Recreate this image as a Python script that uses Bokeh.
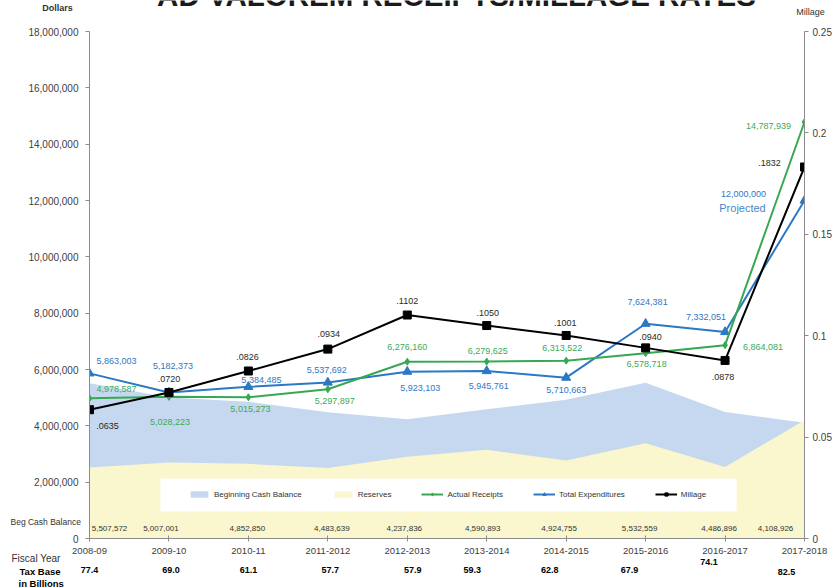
from bokeh.plotting import figure
from bokeh.models import (Range1d, LinearAxis, FixedTicker, NumeralTickFormatter,
                          CustomJSTickFormatter, ColumnDataSource, Legend, LegendItem,
                          Label, GridBox)
from bokeh.core.properties import value
from bokeh.embed import file_html
from bokeh.resources import INLINE

# ---------------- data ----------------
years = ["2008-09", "2009-10", "2010-11", "2011-2012", "2012-2013", "2013-2014",
         "2014-2015", "2015-2016", "2016-2017", "2017-2018"]
beg_cash = [5507572, 5007001, 4852850, 4483639, 4237836, 4590893, 4924755,
            5532559, 4486896, 4108926]
reserves = [2520000, 2700000, 2650000, 2500000, 2900000, 3150000, 2770000,
            3380000, 2540000, 4200000]
receipts = [4978587, 5028223, 5015273, 5297897, 6276160, 6279625, 6313522,
            6578718, 6864081, 14787939]
expenditures = [5863003, 5182373, 5384485, 5537692, 5923103, 5945761, 5710663,
                7624381, 7332051, 12000000]
millage = [0.0635, 0.0720, 0.0826, 0.0934, 0.1102, 0.1050, 0.1001, 0.0940,
           0.0878, 0.1832]
millage_text = [".0635", ".0720", ".0826", ".0934", ".1102", ".1050", ".1001",
                ".0940", ".0878", ".1832"]
tax_base = ["77.4", "69.0", "61.1", "57.7", "57.9", "59.3", "62.8", "67.9",
            "74.1", "82.5"]
dollar_ticks = [0, 2000000, 4000000, 6000000, 8000000, 10000000, 12000000,
                14000000, 16000000, 18000000]
millage_ticks = [0, 0.05, 0.1, 0.15, 0.2, 0.25]
Y_MAX = 18000000
M_MAX = 0.25

# label offsets (screen px, style only)
te_dx = [27, 4, 13, -1, 13, 2, 0, 2, -19, -61]
te_dy = [-12, -27, -7, -13, 16, 15, 12, -22, -15, -7]
ar_dx = [27, 1, 2, 7, 0, 1, -4, 1, 38, -36]
ar_dy = [-9, 25, 12, 12, -15, -11, -13, 11, 2, 4]
mi_dx = [18, 0, -1, 1, 0, 1, -1, 5, -2, -35]
mi_dy = [16, -13, -14, -15, -14, -13, -12, -11, 17, -4]
bc_dx = [20, -8, -1, 4, -3, -4, -7, -6, -6, -29]
tb_dx = [0, 2, 0, 2, 5, -15, -17, -17, -17, -19]
tb_dy = [31, 31, 31, 31, 31, 31, 31, 31, 23, 33]

# layout (px)
W, H = 834, 588
L, R, T, B = 89, 805, 31, 538

xs = list(range(len(years)))
FONT = "Liberation Sans"

src = ColumnDataSource(dict(
    x=xs, cash=beg_cash, res=reserves, rec=receipts, exp=expenditures, mil=millage,
    mil_t=millage_text,
    rec_t=[f"{v:,}" for v in receipts],
    exp_t=[f"{v:,}" for v in expenditures],
    cash_t=[f"{v:,}" for v in beg_cash],
    tax=tax_base, zero=[0] * len(xs),
    te_dx=te_dx, te_dy=te_dy, ar_dx=ar_dx, ar_dy=ar_dy, mi_dx=mi_dx, mi_dy=mi_dy,
    bc_dx=bc_dx, tb_dx=tb_dx, tb_dy=tb_dy,
))

p = figure(width=W, height=H, x_range=Range1d(0, len(xs) - 1),
           y_range=Range1d(0, Y_MAX), output_backend="svg",
           toolbar_location=None, x_axis_location=None, y_axis_location=None,
           min_border_left=L, min_border_right=W - R, min_border_top=T,
           min_border_bottom=H - B)
p.extra_y_ranges = {"mill": Range1d(0, M_MAX)}
p.outline_line_color = None
p.background_fill_color = "white"
p.border_fill_color = "white"
p.grid.visible = False

AX = "#8c8c8c"
LBL = "#404040"

left = LinearAxis(ticker=FixedTicker(ticks=dollar_ticks),
                  formatter=NumeralTickFormatter(format="0,0"))
right = LinearAxis(y_range_name="mill", ticker=FixedTicker(ticks=millage_ticks),
                   formatter=CustomJSTickFormatter(code="return String(Math.round(tick*100)/100);"))
bottom = LinearAxis(ticker=FixedTicker(ticks=xs),
                    major_label_overrides={i: y for i, y in enumerate(years)})
for ax in (left, right, bottom):
    ax.axis_line_color = AX
    ax.major_tick_line_color = AX
    ax.minor_tick_line_color = None
    ax.major_tick_out = 4
    ax.major_tick_in = 0
    ax.major_label_text_color = LBL
    ax.major_label_text_font = FONT
    ax.major_label_text_font_size = "10px"
left.major_label_standoff = 7
right.major_label_standoff = 4
bottom.major_tick_in = 3
bottom.major_tick_out = 3
bottom.major_label_standoff = 6
bottom.major_label_text_font_size = "9.5px"
p.add_layout(left, "left")
p.add_layout(right, "right")
p.add_layout(bottom, "below")

# areas
r_cash = p.varea(x="x", y1=0, y2="cash", source=src, fill_color="#c6d8ef")
r_res = p.varea(x="x", y1=0, y2="res", source=src, fill_color="#faf6cd")

# legend background box
p.quad(left=0.8925, right=8.145, bottom=958600, top=2130000,
       fill_color="white", line_color=None)

BLUE = "#2b78c4"
GREEN = "#36a852"
r_exp_l = p.line("x", "exp", source=src, line_color=BLUE, line_width=2)
r_exp_m = p.scatter("x", "exp", source=src, marker="triangle", size=9,
                    fill_color=BLUE, line_color=BLUE)
r_rec_l = p.line("x", "rec", source=src, line_color=GREEN, line_width=2)
r_rec_m = p.scatter("x", "rec", source=src, marker="diamond", size=7,
                    fill_color=GREEN, line_color=GREEN)
r_mil_l = p.line("x", "mil", source=src, y_range_name="mill", line_color="black",
                 line_width=2)
r_mil_m = p.scatter("x", "mil", source=src, y_range_name="mill", marker="square",
                    size=8, fill_color="black", line_color="black")

# data labels
common = dict(text_font=value(FONT), text_font_size="9px", text_align="center",
              text_baseline="middle")
p.text("x", "exp", text="exp_t", source=src, x_offset="te_dx", y_offset="te_dy",
       text_color="#3077c4", **common)
p.text("x", "rec", text="rec_t", source=src, x_offset="ar_dx", y_offset="ar_dy",
       text_color="#3aab58", **common)
p.text("x", "mil", text="mil_t", source=src, x_offset="mi_dx", y_offset="mi_dy",
       y_range_name="mill", text_color="#2a2a22", **common)
p.text("x", "zero", text="cash_t", source=src, x_offset="bc_dx", y_offset=-10,
       text_color="#333333", text_font=value(FONT), text_font_size="8px",
       text_align="center", text_baseline="middle")

p.add_layout(Label(x=xs[-1], y=expenditures[-1], x_offset=-62, y_offset=-7,
                   text="Projected", text_font=FONT, text_font_size="11px",
                   text_color="#4a86c8", text_align="center", text_baseline="middle"))

legend = Legend(items=[
    LegendItem(label="Beginning Cash Balance", renderers=[r_cash]),
    LegendItem(label="Reserves", renderers=[r_res]),
    LegendItem(label="Actual Receipts", renderers=[r_rec_l, r_rec_m]),
    LegendItem(label="Total Expenditures", renderers=[r_exp_l, r_exp_m]),
    LegendItem(label="Millage", renderers=[r_mil_l, r_mil_m]),
], orientation="horizontal", location=(99, 39), background_fill_alpha=0,
    border_line_color=None, label_text_font=FONT, label_text_font_size="8px",
    label_text_color="#333333", glyph_width=22, glyph_height=8, spacing=30,
    padding=0, margin=0, label_standoff=4, label_height=10)
p.add_layout(legend, "center")

# ---------- transparent overlay (full-canvas frame) for texts outside the plot frame ----------
ux = (R - L) / (len(xs) - 1)
uy = (B - T) / Y_MAX
ov = figure(width=W, height=H, output_backend="svg", toolbar_location=None,
            x_axis_location=None, y_axis_location=None,
            x_range=Range1d(-L / ux, (W - L) / ux),
            y_range=Range1d(-(H - B) / uy, B / uy),
            min_border=0, min_border_left=0, min_border_right=0,
            min_border_top=0, min_border_bottom=0)
ov.outline_line_color = None
ov.background_fill_color = None
ov.border_fill_color = None
ov.grid.visible = False
p.frame_align = False
ov.frame_align = False

ov.text("x", "zero", text="tax", source=src, x_offset="tb_dx", y_offset="tb_dy",
        text_font=value(FONT), text_font_size="9px", text_font_style="bold",
        text_color="black", text_align="center", text_baseline="middle")


def side_text(x, y, dx, dy, txt, size, style="normal", color="#333333",
              align="left", baseline="middle"):
    ov.text(x=[x], y=[y], text=[txt], x_offset=dx, y_offset=dy,
            text_font=value(FONT), text_font_size=size, text_font_style=style,
            text_color=color, text_align=align, text_baseline=baseline)


mid = (len(xs) - 1) / 2
side_text(mid, Y_MAX, 9, -36, "AD VALOREM RECEIPTS/MILLAGE RATES", "29.5px",
          style="bold", color="#1a1a1a", align="center", baseline="alphabetic")
side_text(0, Y_MAX, -32, -24, "Dollars", "9px", style="bold", align="center")
side_text(xs[-1], Y_MAX, 5, -20, "Millage", "9px", align="center")
side_text(0, 0, -79, -17, "Beg Cash Balance", "8.5px")
side_text(0, 0, -78, 20, "Fiscal Year", "10px")
side_text(0, 0, -70, 33, "Tax Base", "9.5px", style="bold", color="black")
side_text(0, 0, -71, 45, "in Billions", "9.5px", style="bold", color="black")

root = GridBox(children=[(p, 0, 0), (ov, 0, 0)])

open("out.html", "w").write(file_html(root, INLINE))
